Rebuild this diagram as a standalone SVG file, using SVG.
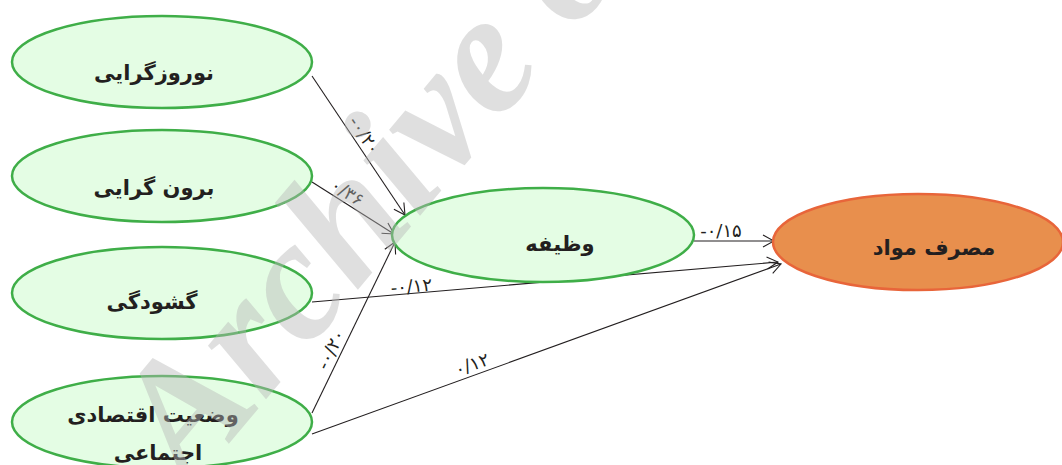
<svg xmlns="http://www.w3.org/2000/svg" width="1062" height="465" viewBox="0 0 1062 465">
<defs>
<style>
.g{fill:#e4fde4;stroke:#3fae48;stroke-width:2.5}
.o{fill:#e88f4d;stroke:#e8653a;stroke-width:2.5}
.t{font-family:"DejaVu Sans",sans-serif;font-weight:bold;font-size:21px;fill:#231f20;text-anchor:middle}
.e{stroke:#231f20;stroke-width:1.1;fill:none;marker-end:url(#arr)}
.l{font-family:"DejaVu Sans",sans-serif;font-size:18px;fill:#231f20;text-anchor:middle;letter-spacing:1px}
.wm{font-family:"Liberation Serif",serif;font-weight:bold;font-style:italic;font-size:172px;fill:#b6b6b6;fill-opacity:0.44}
</style>
<marker id="arr" markerUnits="userSpaceOnUse" markerWidth="14" markerHeight="14" viewBox="0 0 14 14" refX="13" refY="7" orient="auto">
<path d="M2,1 L13,7 L2,13" fill="none" stroke="#231f20" stroke-width="1.1"/>
</marker>
</defs>
<rect width="1062" height="465" fill="#ffffff"/>
<g id="connectors">
<line class="e" x1="312" y1="76" x2="405" y2="215"/>
<line class="e" x1="312" y1="182" x2="394" y2="234"/>
<line class="e" x1="312" y1="302" x2="778" y2="262"/>
<line class="e" x1="312" y1="413" x2="395" y2="242"/>
<line class="e" x1="312" y1="434" x2="781" y2="264"/>
<line class="e" x1="694" y1="241" x2="774" y2="241"/>
<text class="l" transform="translate(356,141) rotate(56.2)" y="-4">-۰/۲۰</text>
<text class="l" transform="translate(342,201) rotate(32.4)" y="-4">۰/۳۶</text>
<text class="l" transform="translate(412,293.4) rotate(-4.9)" y="-1">-۰/۱۲</text>
<text class="l" transform="translate(340,354) rotate(-64.1)" y="-4">-۰/۲۰</text>
<text class="l" transform="translate(475,373) rotate(-19.9)" y="-3">۰/۱۲</text>
<text class="l" x="721" y="237">-۰/۱۵</text>
</g>
<g id="node-nowruzgarayi">
<ellipse class="g" cx="162" cy="62" rx="150" ry="46"/>
<text class="t" x="154" y="80">نوروزگرایی</text>
</g>
<g id="node-borongarayi">
<ellipse class="g" cx="162" cy="176" rx="150" ry="46"/>
<text class="t" x="154" y="195">برون گرایی</text>
</g>
<g id="node-goshoodegi">
<ellipse class="g" cx="162" cy="293" rx="150" ry="46"/>
<text class="t" x="152" y="309">گشودگی</text>
</g>
<g id="node-vaziat">
<ellipse class="g" cx="162" cy="422" rx="150" ry="46"/>
<text class="t" x="153" y="422">وضعیت اقتصادی</text>
<text class="t" x="158" y="460">اجتماعی</text>
</g>
<g id="node-vazifeh">
<ellipse class="g" cx="543" cy="235" rx="151" ry="47"/>
<text class="t" x="560" y="251">وظیفه</text>
</g>
<g id="node-masraf">
<ellipse class="o" cx="918" cy="242" rx="145" ry="48"/>
<text class="t" x="934" y="255">مصرف مواد</text>
</g>
<text class="wm" transform="translate(190,490) rotate(-50)">Archive of SID</text>
</svg>
